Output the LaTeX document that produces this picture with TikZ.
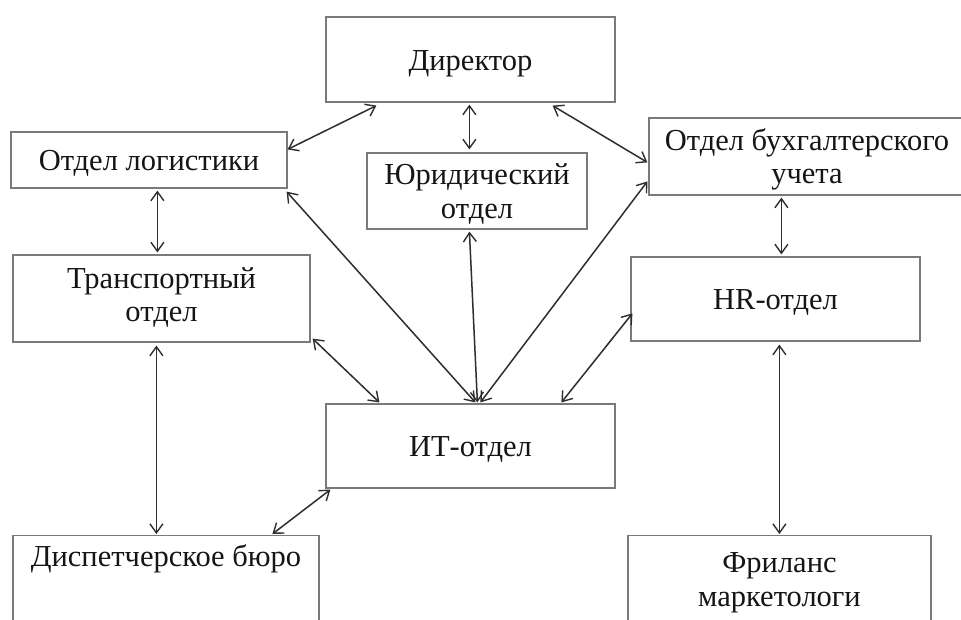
\documentclass[tikz,border=0pt]{standalone}
\usepackage{fontspec}
\setmainfont{Liberation Serif}
\usetikzlibrary{arrows.meta,calc}
\definecolor{boxgray}{HTML}{7A7A7A}
\definecolor{arrowgray}{HTML}{2E2E2E}
\definecolor{txt}{HTML}{151515}
\begin{document}
\begin{tikzpicture}[x=1pt,y=-1pt,
  box/.style={draw=boxgray, line width=1.2pt, align=center, inner sep=2pt,
    font=\fontsize{30.5}{33.5}\selectfont, text=txt, text height=21pt, text depth=0pt},
  twoline/.style={text height=54.5pt, text depth=0pt},
  link/.style={draw=arrowgray, line width=1.5pt,
    {Straight Barb[length=9pt,width=13pt,line width=1.4pt]}-{Straight Barb[length=9pt,width=13pt,line width=1.4pt]}}]
\useasboundingbox[fill=white] (0,0) rectangle (961,619);

\node[box, minimum width=289pt, minimum height=85pt] (dir) at (470.5,59.5) {Директор};
\node[box, minimum width=276pt, minimum height=56pt] (log) at (149,160) {Отдел логистики};
\node[box, twoline, minimum width=220pt, minimum height=76pt] (jur) at (477,191) {Юридический\\отдел};
\node[box, twoline, minimum width=316pt, minimum height=77pt] (buh) at (807,156.5) {Отдел бухгалтерского\\учета};
\node[box, twoline, text depth=8pt, minimum width=297pt, minimum height=87pt] (tr) at (161.5,298.5) {Транспортный\\отдел};
\node[box, minimum width=289pt, minimum height=84pt] (hr) at (775.5,299) {HR-отдел};
\node[box, minimum width=289pt, minimum height=84pt] (it) at (470.5,446) {ИТ-отдел};
\node[box, anchor=north, minimum width=306pt, inner ysep=0pt, text height=31pt, text depth=56pt] (disp) at (166,535) {Диспетчерское бюро};
\node[box, twoline, anchor=north, minimum width=303pt, minimum height=87pt] (fr) at (779.5,535) {Фриланс\\маркетологи};

\draw[link] ($(dir.south west)+(51,3)$) -- ($(log.north east)+(0,18)$);
\draw[link] ($(dir.south west)+(144,2)$) -- ($(jur.north west)+(103,-3)$);
\draw[link] ($(dir.south east)+(-63,3)$) -- ($(buh.north west)+(-1,45)$);
\draw[link] ($(log.south west)+(147,2)$) -- ($(tr.north west)+(145,-2)$);
\draw[link] ($(log.south east)+(-1,3)$) -- ($(it.north west)+(150,-1)$);
\draw[link] ($(jur.south west)+(103,2)$) -- ($(it.north west)+(152,-1)$);
\draw[link] ($(buh.north west)+(-1,64)$) -- ($(it.north west)+(155,-1)$);
\draw[link] ($(buh.south west)+(133,2)$) -- ($(hr.north west)+(151,-2)$);
\draw[link] ($(tr.south east)+(2,-4)$) -- ($(it.north west)+(54,-1)$);
\draw[link] ($(hr.north west)+(2,57)$) -- ($(it.north west)+(236,-1)$);
\draw[link] ($(tr.south west)+(144,3)$) -- ($(disp.north west)+(144,-1)$);
\draw[link] ($(it.south west)+(5,1)$) -- ($(disp.north west)+(260,-1)$);
\draw[link] ($(hr.south west)+(149,3)$) -- ($(fr.north west)+(152,-1)$);
\end{tikzpicture}
\end{document}
